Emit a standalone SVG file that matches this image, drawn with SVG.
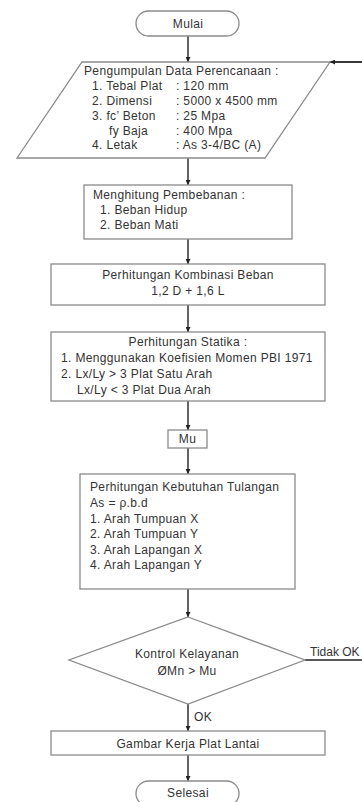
<svg xmlns="http://www.w3.org/2000/svg" width="362" height="802" viewBox="0 0 362 802">
<style>
.shape{fill:#fff;stroke:#8a8a8a;stroke-width:1.3}
.t{font-family:"Liberation Sans",Arial,sans-serif;font-size:12px;letter-spacing:0.35px;fill:#333}
.c{text-anchor:middle}
.ln{fill:none;stroke:#222;stroke-width:1.4}
.ar{fill:none;stroke:#222;stroke-width:1.4;marker-end:url(#ah)}
</style>
<defs>
<marker id="ah" viewBox="0 0 8 8" refX="8" refY="4" markerWidth="5" markerHeight="5" orient="auto" markerUnits="userSpaceOnUse">
<path d="M0,0 L8,4 L0,8 Z" fill="#222"/>
</marker>
</defs>
<rect width="362" height="802" fill="#fff"/>
<g id="connectors">
<line class="ar" x1="188" y1="36" x2="188" y2="62"/>
<line class="ar" x1="188" y1="158" x2="188" y2="185"/>
<line class="ar" x1="188" y1="239" x2="188" y2="264"/>
<line class="ar" x1="188" y1="305" x2="188" y2="332"/>
<line class="ar" x1="188" y1="401" x2="188" y2="430"/>
<line class="ar" x1="188" y1="448" x2="188" y2="474"/>
<line class="ar" x1="188" y1="589" x2="188" y2="617"/>
<line class="ar" x1="188" y1="704" x2="188" y2="731"/>
<line class="ar" x1="188" y1="755" x2="188" y2="781"/>
<line class="ln" x1="305" y1="660" x2="362" y2="660"/>
<line class="ar" x1="362" y1="62" x2="330" y2="62" style="stroke-width:1.8"/>
<text class="t" x="310" y="656" style="letter-spacing:0">Tidak OK</text>
<text class="t" x="194" y="721">OK</text>
</g>
<g id="mulai">
<rect class="shape" x="136" y="11" width="103" height="25" rx="12.5"/>
<text class="t c" x="188" y="28">Mulai</text>
</g>
<g id="data">
<polygon class="shape" points="82,62 330,62 265,158 17,158"/>
<text class="t" x="84" y="75">Pengumpulan Data Perencanaan :</text>
<text class="t" x="92" y="90">1. Tebal Plat</text><text class="t" x="176" y="90">: 120 mm</text>
<text class="t" x="92" y="105">2. Dimensi</text><text class="t" x="176" y="105">: 5000 x 4500 mm</text>
<text class="t" x="92" y="120">3. fc’ Beton</text><text class="t" x="176" y="120">: 25 Mpa</text>
<text class="t" x="109" y="135">fy Baja</text><text class="t" x="176" y="135">: 400 Mpa</text>
<text class="t" x="92" y="149">4. Letak</text><text class="t" x="176" y="149">: As 3-4/BC (A)</text>
</g>
<g id="pembebanan">
<rect class="shape" x="84" y="185" width="208" height="54"/>
<text class="t" x="93" y="199">Menghitung Pembebanan :</text>
<text class="t" x="100" y="214">1. Beban Hidup</text>
<text class="t" x="100" y="229">2. Beban Mati</text>
</g>
<g id="kombinasi">
<rect class="shape" x="51" y="264" width="274" height="41"/>
<text class="t c" x="188" y="279">Perhitungan Kombinasi Beban</text>
<text class="t c" x="188" y="295">1,2 D + 1,6 L</text>
</g>
<g id="statika">
<rect class="shape" x="51" y="332" width="274" height="69"/>
<text class="t c" x="188" y="346">Perhitungan Statika :</text>
<text class="t" x="61" y="362">1. Menggunakan Koefisien Momen PBI 1971</text>
<text class="t" x="61" y="378">2. Lx/Ly &gt; 3 Plat Satu Arah</text>
<text class="t" x="77" y="394">Lx/Ly &lt; 3 Plat Dua Arah</text>
</g>
<g id="mu">
<rect class="shape" x="168" y="430" width="39" height="18"/>
<text class="t c" x="187.5" y="443">Mu</text>
</g>
<g id="tulangan">
<rect class="shape" x="80" y="474" width="215" height="115"/>
<text class="t" x="90" y="491">Perhitungan Kebutuhan Tulangan</text>
<text class="t" x="90" y="507">As = ρ.b.d</text>
<text class="t" x="90" y="523">1. Arah Tumpuan X</text>
<text class="t" x="90" y="538">2. Arah Tumpuan Y</text>
<text class="t" x="90" y="554">3. Arah Lapangan X</text>
<text class="t" x="90" y="569">4. Arah Lapangan Y</text>
</g>
<g id="kontrol">
<polygon class="shape" points="188,617 305,660 188,704 69,660"/>
<text class="t c" x="187" y="658">Kontrol Kelayanan</text>
<text class="t c" x="187" y="675">ØMn &gt; Mu</text>
</g>
<g id="gambar">
<rect class="shape" x="51" y="731" width="274" height="24"/>
<text class="t c" x="188" y="748">Gambar Kerja Plat Lantai</text>
</g>
<g id="selesai">
<rect class="shape" x="136" y="781" width="103" height="25" rx="12.5"/>
<text class="t c" x="188" y="797">Selesai</text>
</g>
</svg>
